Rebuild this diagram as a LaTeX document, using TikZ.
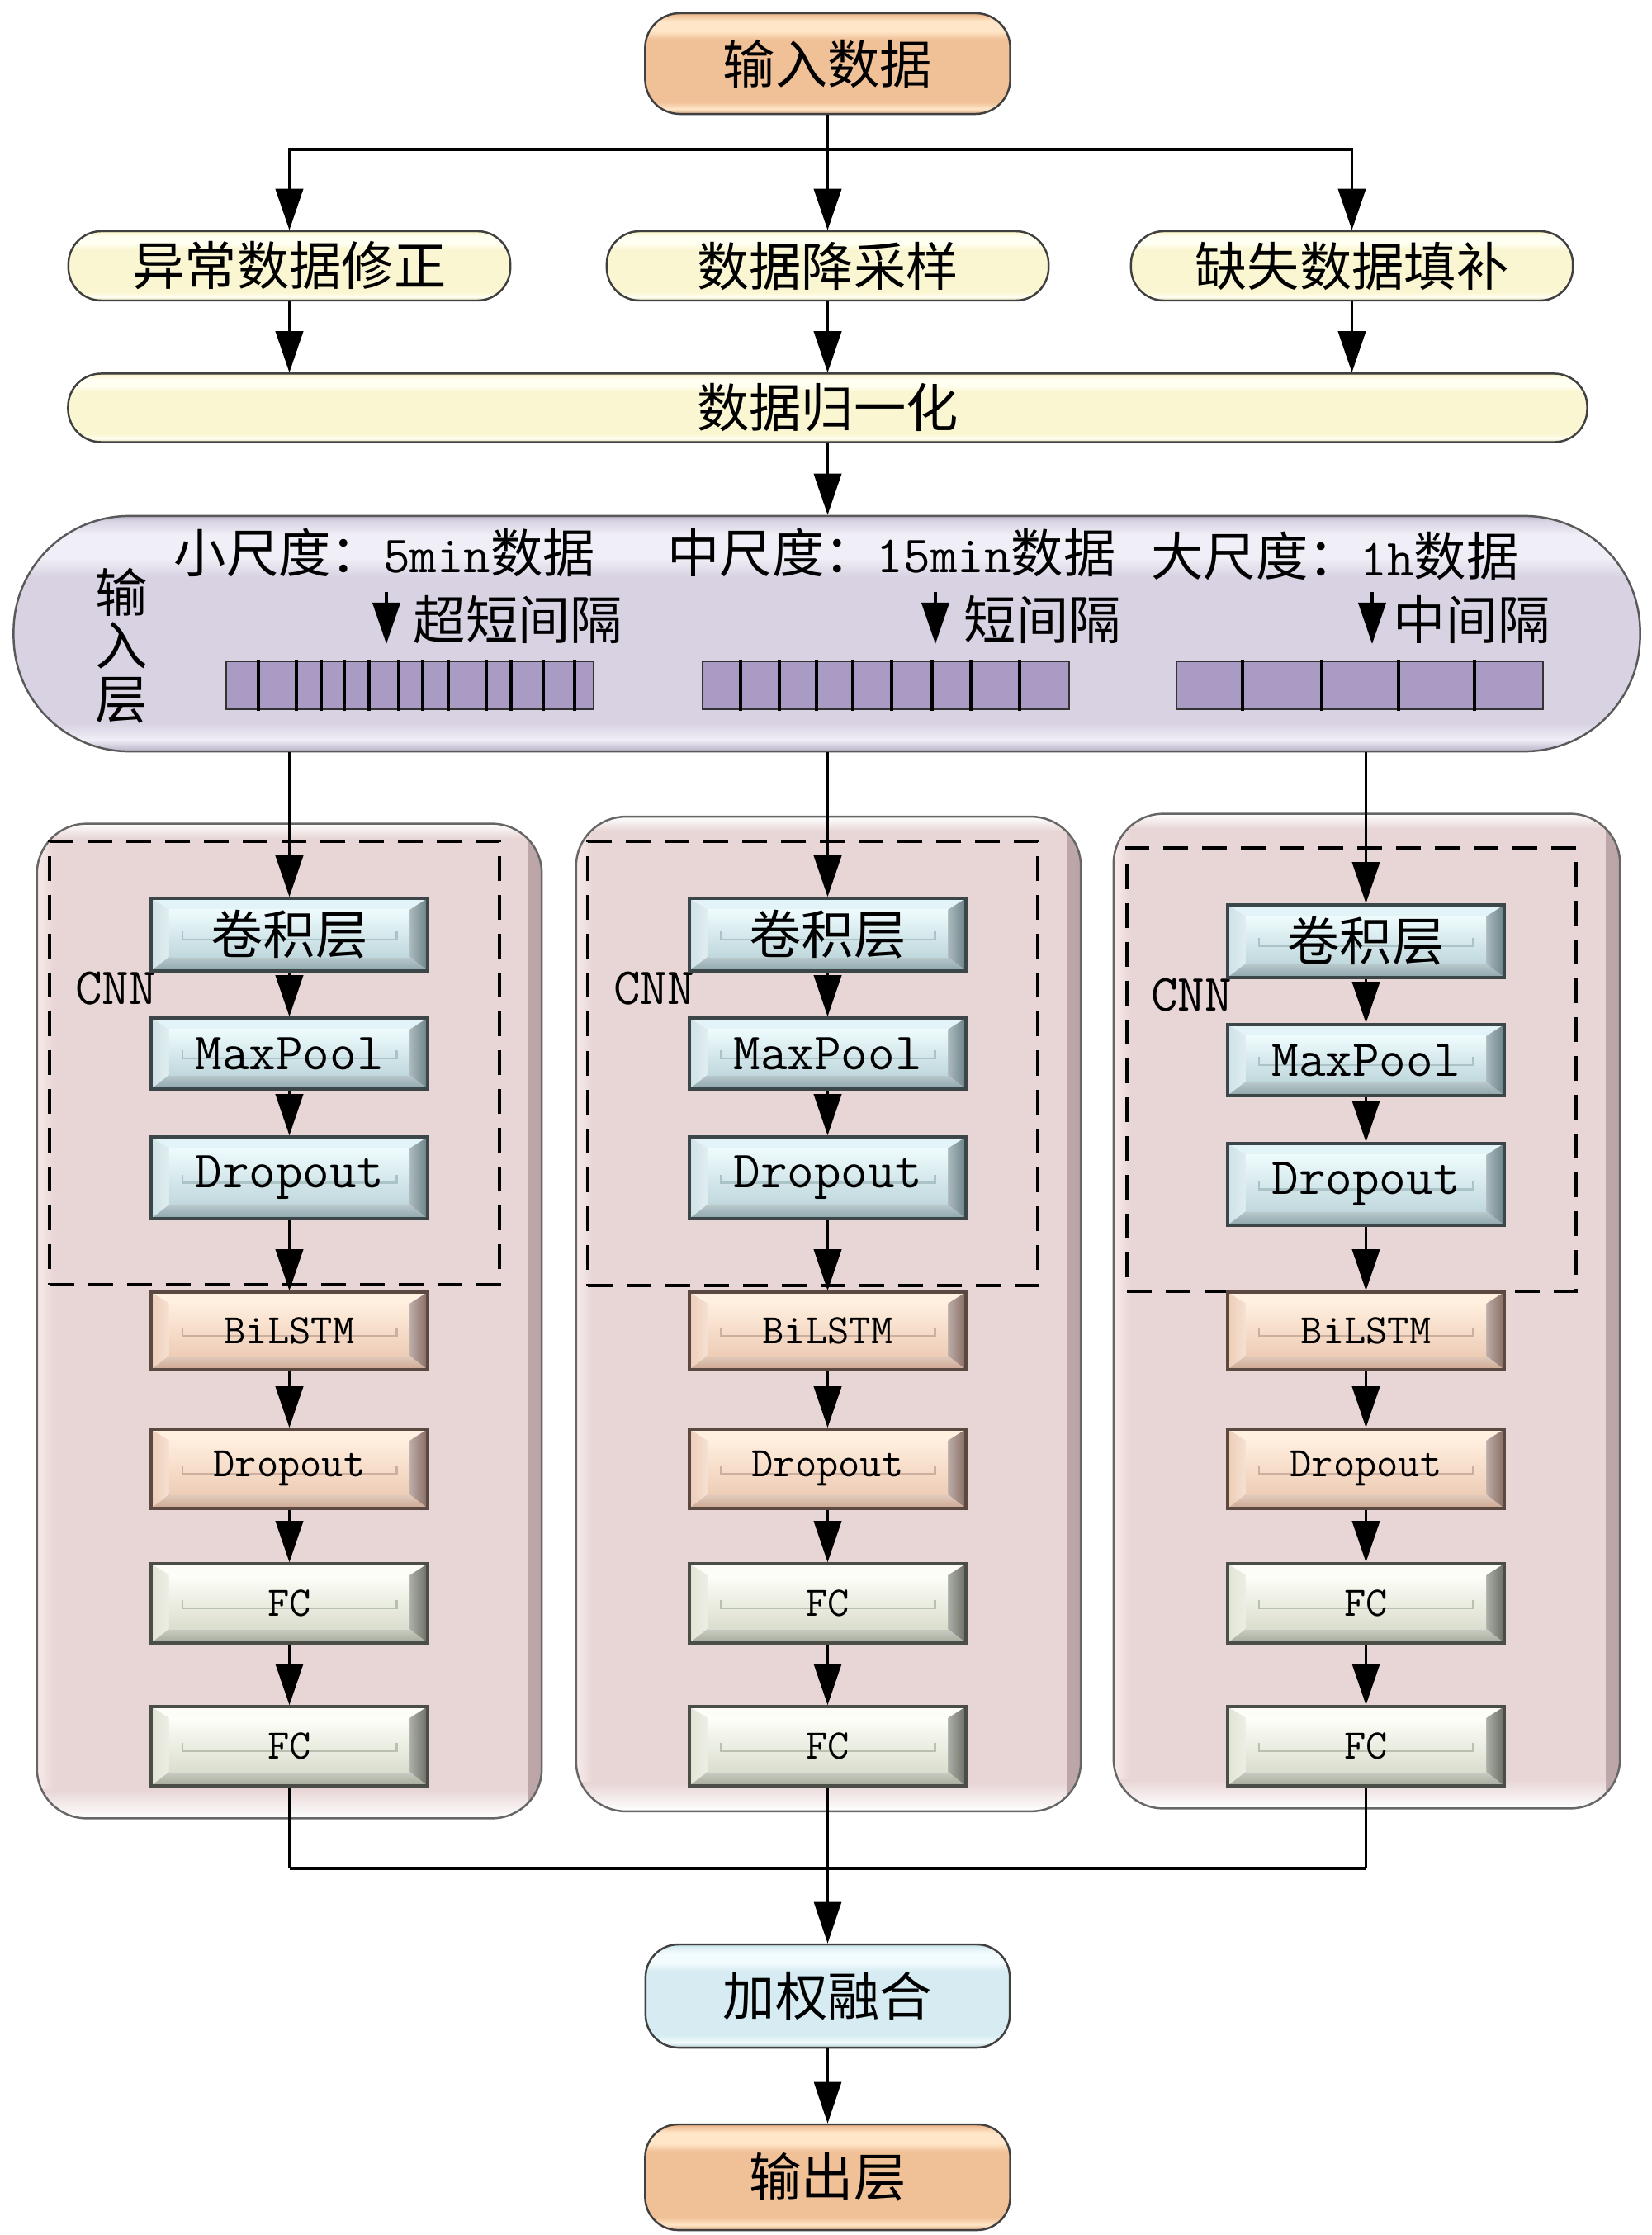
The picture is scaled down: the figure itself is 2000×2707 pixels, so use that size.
\documentclass[tikz,border=0pt]{standalone}
\usepackage{fontspec}
\newfontfamily\cjk{Noto Sans CJK SC}
\usetikzlibrary{arrows.meta,calc}

\definecolor{peachB}{RGB}{240,192,150}
\definecolor{peachL}{RGB}{255,230,200}
\definecolor{peachE}{RGB}{215,165,125}
\definecolor{yelB}{RGB}{250,246,210}
\definecolor{yelL}{RGB}{255,255,242}
\definecolor{yelE}{RGB}{215,208,165}
\definecolor{cypB}{RGB}{214,236,242}
\definecolor{cypL}{RGB}{242,251,253}
\definecolor{cypE}{RGB}{180,205,212}
\definecolor{lavB}{RGB}{216,210,226}
\definecolor{lavL}{RGB}{240,238,246}
\definecolor{lavE}{RGB}{185,178,200}
\definecolor{pkB}{RGB}{232,213,213}
\definecolor{pkL}{RGB}{250,236,236}
\definecolor{pkD}{RGB}{188,165,167}
\definecolor{barC}{RGB}{169,155,196}
% bevel colours
\definecolor{cyT}{RGB}{226,244,247}
\definecolor{cyL}{RGB}{205,226,230}
\definecolor{cyR}{RGB}{105,130,136}
\definecolor{cyBo}{RGB}{140,165,170}
\definecolor{cyFa}{RGB}{238,251,253}
\definecolor{cyFb}{RGB}{192,216,221}
\definecolor{cyBr}{RGB}{170,195,198}
\definecolor{cyBd}{RGB}{60,70,72}
\definecolor{orT}{RGB}{255,240,224}
\definecolor{orL}{RGB}{238,205,182}
\definecolor{orR}{RGB}{135,108,98}
\definecolor{orBo}{RGB}{205,168,145}
\definecolor{orFa}{RGB}{255,238,222}
\definecolor{orFb}{RGB}{238,205,182}
\definecolor{orBr}{RGB}{205,175,160}
\definecolor{orBd}{RGB}{90,72,65}
\definecolor{fcT}{RGB}{252,253,246}
\definecolor{fcL}{RGB}{225,228,212}
\definecolor{fcR}{RGB}{105,110,98}
\definecolor{fcBo}{RGB}{165,170,155}
\definecolor{fcFa}{RGB}{253,254,248}
\definecolor{fcFb}{RGB}{218,222,206}
\definecolor{fcBr}{RGB}{185,192,175}
\definecolor{fcBd}{RGB}{75,78,70}

\newcommand\mkvshade[4]{\pgfdeclareverticalshading{#1}{100bp}{color(0bp)=(#4); color(25bp)=(#4); color(27.5bp)=(#3); color(31bp)=(#2); color(62bp)=(#2); color(66bp)=(#3); color(71bp)=(#3); color(74bp)=(#2); color(75bp)=(#4); color(100bp)=(#4)}}
\mkvshade{shPeach}{peachB}{peachL}{peachE}
\mkvshade{shYel}{yelB}{yelL}{yelE}
\mkvshade{shCyan}{cypB}{cypL}{cypE}
\mkvshade{shLav}{lavB}{lavL}{lavE}

\newcommand\bevelpic[7]{%
  \coordinate (q1) at (path picture bounding box.north west);
  \coordinate (q2) at (path picture bounding box.north east);
  \coordinate (q3) at (path picture bounding box.south east);
  \coordinate (q4) at (path picture bounding box.south west);
  \coordinate (qc) at (path picture bounding box.center);
  \coordinate (i1) at ($(q1)+(22,14)$);
  \coordinate (i2) at ($(q2)+(-22,14)$);
  \coordinate (i3) at ($(q3)+(-22,-17)$);
  \coordinate (i4) at ($(q4)+(22,-17)$);
  \fill[#1] (q1)--(q2)--(i2)--(i1)--cycle;
  \shade[left color=#2, right color=#2!60!white] (q1)--(i1)--(i4)--(q4)--cycle;
  \shade[left color=#3!55!white, right color=#3] (q2)--(q3)--(i3)--(i2)--cycle;
  \shade[top color=#4!60!white, bottom color=#4] (i4)--(i3)--(q3)--(q4)--cycle;
  \shade[top color=#5, bottom color=#6] (i1) rectangle (i3);
  \draw[#7, line width=0.8pt] ($(q1 |- qc)+(38,-4)$) -- ++(0,10) -- ($(q2 |- qc)+(-38,6)$) -- ++(0,-10);
}

\newcommand\netcol[3]{%
  \node[cyanbox, minimum height=0.88cm] (conv#1) at (#2,1132+#3) {\cjk 卷积层};
  \node[cyanbox, minimum height=0.86cm] (pool#1) at (#2,1276+#3) {\ttfamily MaxPool};
  \node[cyanbox, minimum height=0.99cm] (dropa#1) at (#2,1426.5+#3) {\ttfamily Dropout};
  \node[orbox, minimum height=0.94cm] (lstm#1) at (#2,1612) {\ttfamily BiLSTM};
  \node[orbox, minimum height=0.96cm] (dropb#1) at (#2,1779) {\ttfamily Dropout};
  \node[fcbox, minimum height=0.96cm] (fca#1) at (#2,1942) {\ttfamily FC};
  \node[fcbox, minimum height=0.96cm] (fcb#1) at (#2,2115) {\ttfamily FC};
  \draw[arr] (conv#1.north |- il.south) -- (conv#1.north);
  \draw[arr] (conv#1) -- (pool#1);
  \draw[arr] (pool#1) -- (dropa#1);
  \draw[arr] (dropa#1) -- (lstm#1);
  \draw[arr] (lstm#1) -- (dropb#1);
  \draw[arr] (dropb#1) -- (fca#1);
  \draw[arr] (fca#1) -- (fcb#1);
}

\begin{document}
\begin{tikzpicture}[x=0.01cm,y=-0.01cm,
  ln/.style={line width=1.1pt},
  arr/.style={line width=1.1pt,-{Triangle[width=0.33cm,length=0.5cm]}},
  lab/.style={font=\cjk\fontsize{18}{21}\selectfont, inner sep=0pt},
  pill/.style={draw=black!75, line width=0.7pt, shade, inner sep=0pt, font=\cjk\fontsize{18}{21}\selectfont},
  peach/.style={pill, shading=shPeach},
  yel/.style={pill, shading=shYel},
  cyanpill/.style={pill, shading=shCyan},
  bevel/.style={rectangle, draw=#1, line width=1pt, minimum width=3.35cm, inner sep=0pt},
  cyanbox/.style={bevel=cyBd, font=\fontsize{18}{21}\selectfont,
    path picture={\bevelpic{cyT}{cyL}{cyR}{cyBo}{cyFa}{cyFb}{cyBr}}},
  orbox/.style={bevel=orBd, font=\fontsize{14.5}{17}\selectfont,
    path picture={\bevelpic{orT}{orL}{orR}{orBo}{orFa}{orFb}{orBr}}},
  fcbox/.style={bevel=fcBd, font=\fontsize{14.5}{17}\selectfont,
    path picture={\bevelpic{fcT}{fcL}{fcR}{fcBo}{fcFa}{fcFb}{fcBr}}},
  panel/.style={draw=black!60, line width=0.7pt, fill=pkB, rounded corners=0.6cm,
    minimum width=6.11cm, minimum height=12.04cm, inner sep=0pt,
    path picture={
      \shade[sharp corners, left color=pkB, right color=pkD] ([xshift=-0.17cm]path picture bounding box.north east) rectangle (path picture bounding box.south east);
      \shade[sharp corners, left color=pkL, right color=pkB] (path picture bounding box.north west) rectangle ([xshift=0.2cm]path picture bounding box.south west);
      \shade[sharp corners, top color=pkB, bottom color=white] ([yshift=0.35cm]path picture bounding box.south west) rectangle ([xshift=-0.17cm]path picture bounding box.south east);
      \shade[sharp corners, top color=white, bottom color=pkB] (path picture bounding box.north west) rectangle ([xshift=-0.17cm,yshift=-0.18cm]path picture bounding box.north east);
    }},
  dsh/.style={draw, line width=1.1pt, dash pattern=on 0.3cm off 0.17cm, inner sep=0pt},
  cnnlab/.style={font=\ttfamily\fontsize{18}{21}\selectfont, inner sep=0pt}
]
\fill[white] (0,0) rectangle (2000,2707);

% ---------- top part ----------
\node[peach, minimum width=4.42cm, minimum height=1.22cm, rounded corners=0.42cm] (in) at (1002.5,77) {输入数据};
\node[yel, minimum width=5.35cm, minimum height=0.84cm, rounded corners=0.4cm] (p1) at (350.5,322) {异常数据修正};
\node[yel, minimum width=5.35cm, minimum height=0.84cm, rounded corners=0.4cm] (p2) at (1002.5,322) {数据降采样};
\node[yel, minimum width=5.35cm, minimum height=0.84cm, rounded corners=0.4cm] (p3) at (1637.5,322) {缺失数据填补};
\node[yel, minimum width=18.39cm, minimum height=0.83cm, rounded corners=0.4cm] (norm) at (1002.5,494) {数据归一化};

\coordinate (jt) at (1002.5,181);
\draw[ln] (in.south) -- (jt);
\draw[arr] (jt) -| (p1);
\draw[arr] (jt) -- (p2);
\draw[arr] (jt) -| (p3);
\draw[arr] (p1.south) -- (p1.south |- norm.north);
\draw[arr] (p2.south) -- (p2.south |- norm.north);
\draw[arr] (p3.south) -- (p3.south |- norm.north);

% ---------- input layer ----------
\node[draw=black!65, line width=0.7pt, shade, shading=shLav, rounded corners=1.4cm,
      minimum width=19.69cm, minimum height=2.85cm, inner sep=0pt] (il) at (1001.5,767.5) {};
\draw[arr] (norm.south) -- (norm.south |- il.north);

\node[lab, align=center, font=\cjk\fontsize{18}{18.3}\selectfont] (ilt) at (147,782) {输\\入\\层};
\node[lab] (s1) at (466,669) {小尺度：{\ttfamily 5min}数据};
\node[lab] (s2) at (1080,669) {中尺度：{\ttfamily 15min}数据};
\node[lab] (s3) at (1617,673) {大尺度：{\ttfamily 1h}数据};

\coordinate (a1s) at (468,717); \coordinate (a1e) at (468,780);
\coordinate (a2s) at (1133,717); \coordinate (a2e) at (1133,780);
\coordinate (a3s) at (1662,717); \coordinate (a3e) at (1662,780);
\draw[arr] (a1s) -- (a1e);
\draw[arr] (a2s) -- (a2e);
\draw[arr] (a3s) -- (a3e);
\node[lab, anchor=west] (t1) at (500,750) {超短间隔};
\node[lab, anchor=west] (t2) at (1167,750) {短间隔};
\node[lab, anchor=west] (t3) at (1687,750) {中间隔};

\node[draw=black!80, line width=0.6pt, fill=barC, minimum width=4.45cm, minimum height=0.58cm, inner sep=0pt] (bar1) at (496.5,830) {};
\node[draw=black!80, line width=0.6pt, fill=barC, minimum width=4.44cm, minimum height=0.58cm, inner sep=0pt] (bar2) at (1073,830) {};
\node[draw=black!80, line width=0.6pt, fill=barC, minimum width=4.44cm, minimum height=0.58cm, inner sep=0pt] (bar3) at (1647,830) {};
\foreach \xx in {313,359,389,417,447,483,512,543,589,619,658,696}
  \draw[line width=0.9pt] (\xx,799) -- (\xx,861);
\foreach \xx in {897,944,989,1033,1080,1129,1176,1235}
  \draw[line width=0.9pt] (\xx,799) -- (\xx,861);
\foreach \xx in {1505,1601,1694,1786}
  \draw[line width=0.9pt] (\xx,799) -- (\xx,861);

% ---------- columns ----------
\node[panel] (panA) at (350.5,1600) {};
\node[panel] (panB) at (1003.5,1591.5) {};
\node[panel, minimum width=6.13cm] (panC) at (1655.5,1588) {};

\node[dsh, minimum width=5.45cm, minimum height=5.37cm] (dshA) at (332.5,1287.5) {};
\node[dsh, minimum width=5.45cm, minimum height=5.37cm] (dshB) at (984.5,1288) {};
\node[dsh, minimum width=5.44cm, minimum height=5.37cm] (dshC) at (1637,1295.5) {};

\node[cnnlab] (cnnA) at (140,1197) {CNN};
\node[cnnlab] (cnnB) at (792,1197) {CNN};
\node[cnnlab] (cnnC) at (1443,1205) {CNN};

\netcol{A}{350.5}{0}
\netcol{B}{1002.5}{0}
\netcol{C}{1654.5}{8}

% ---------- bottom ----------
\node[cyanpill, minimum width=4.41cm, minimum height=1.25cm, rounded corners=0.4cm] (fuse) at (1002.5,2417.5) {加权融合};
\node[peach, minimum width=4.42cm, minimum height=1.28cm, rounded corners=0.4cm] (out) at (1002.5,2637) {输出层};

\coordinate (jb) at (1002.5,2263);
\draw[line width=0.7pt] (fcbA.south) -- (fcbA.south |- jb);
\draw[line width=0.7pt] (fcbC.south) -- (fcbC.south |- jb);
\draw[line width=1.2pt] (fcbA.south |- jb) -- (fcbC.south |- jb);
\draw[line width=0.7pt,-{Triangle[width=0.33cm,length=0.5cm]}] (fcbB.south) -- (fuse.north);
\draw[line width=0.7pt,-{Triangle[width=0.33cm,length=0.5cm]}] (fuse.south) -- (out.north);
\end{tikzpicture}
\end{document}
